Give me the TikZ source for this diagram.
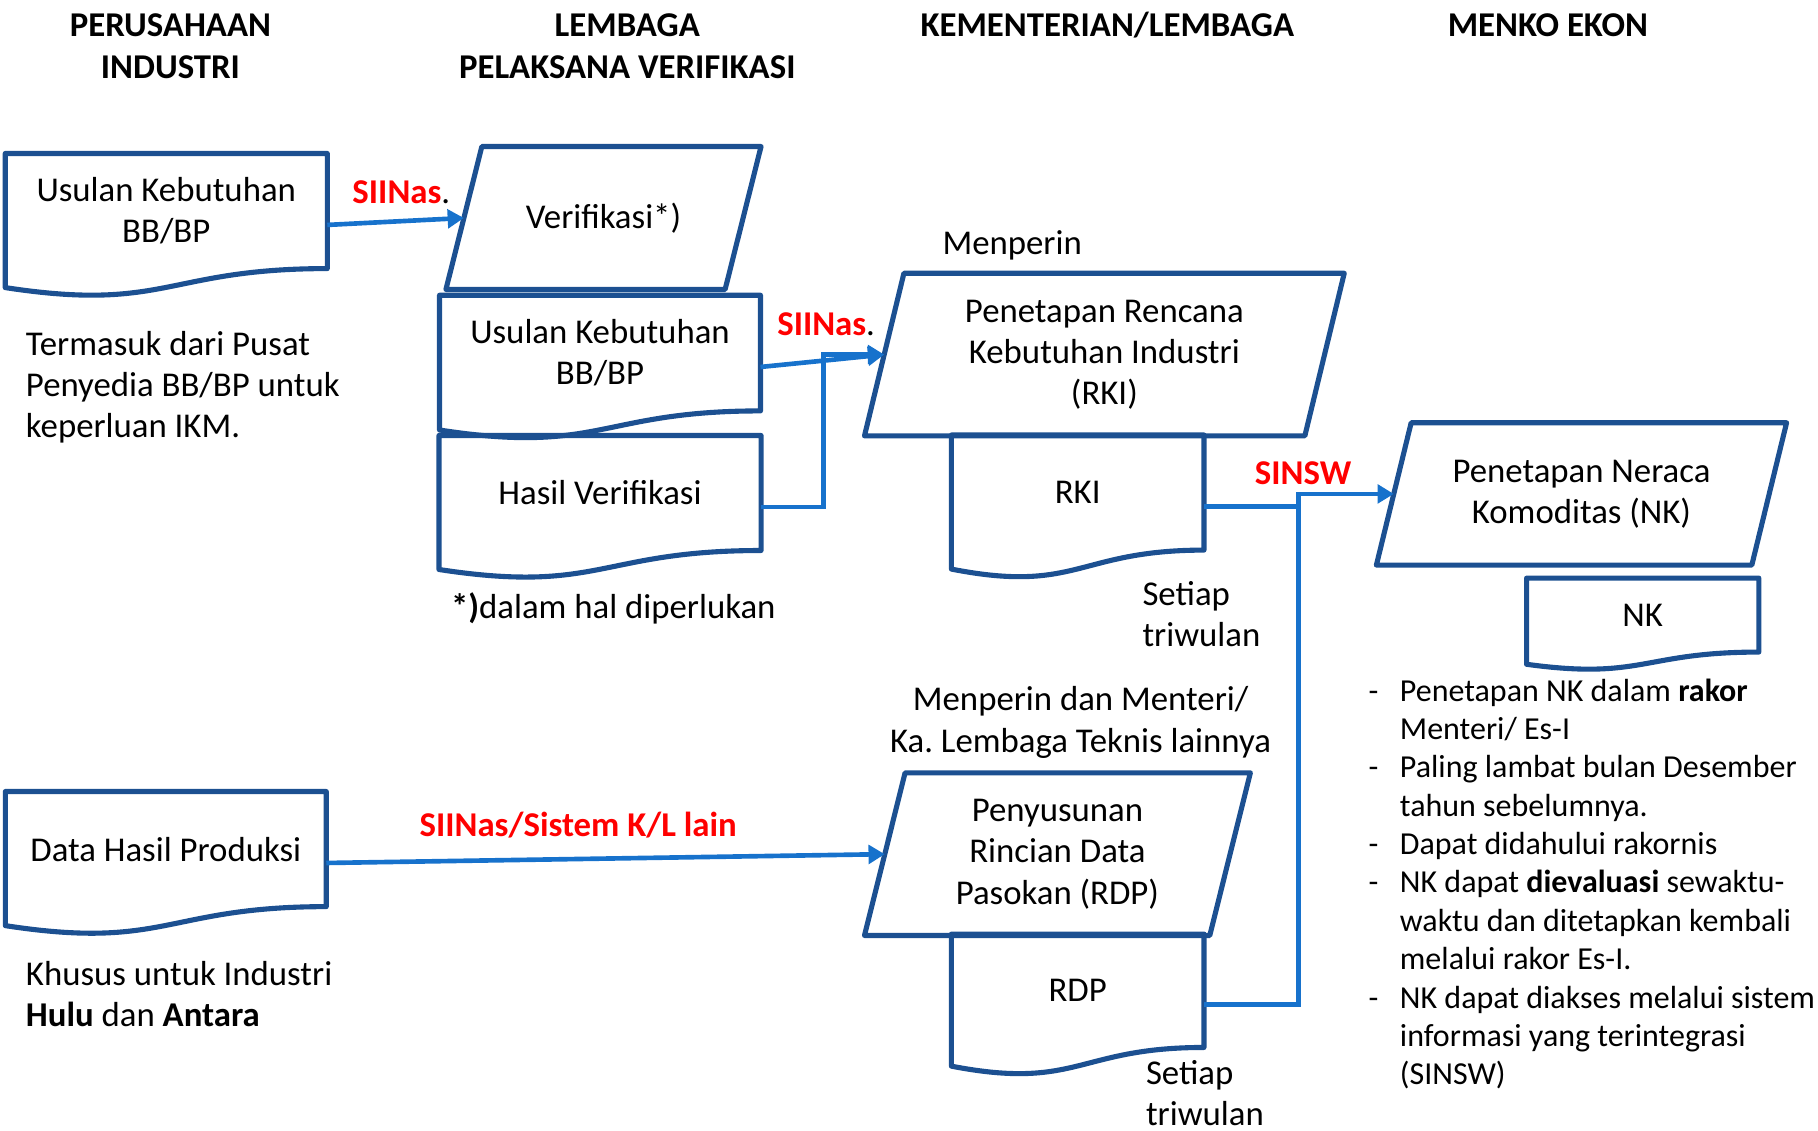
\documentclass[tikz,border=0pt]{standalone}
\usepackage{fontspec}
\setmainfont{Carlito}
\usetikzlibrary{arrows.meta,calc}

\definecolor{boxblue}{RGB}{28,80,145}
\definecolor{linkblue}{RGB}{23,114,204}
\definecolor{sysred}{RGB}{255,0,0}

\tikzset{
  txt/.style={inner sep=0pt, align=center, font=\fontsize{15}{17.75}\selectfont},
  headtxt/.style={txt, font=\fontsize{15}{18}\selectfont\bfseries},
  leftnote/.style={txt, align=left, anchor=west},
  systxt/.style={txt, anchor=west, text=sysred, font=\fontsize{15}{17.75}\selectfont\bfseries},
  boxline/.style={draw=boxblue, line width=2.2pt, line join=round},
  link/.style={draw=linkblue, line width=2pt},
  linkarrow/.style={link, -{Triangle[length=7pt,width=8pt]}},
}

\begin{document}
\frenchspacing
\begin{tikzpicture}[x=0.5pt,y=0.5pt,yscale=-1]
	\useasboundingbox (0,0) rectangle (1568,975);

	% Column heads
	\node[headtxt] (hind) at (147,40) {PERUSAHAAN\\INDUSTRI};
	\node[headtxt] (hlpv) at (541,40) {LEMBAGA\\PELAKSANA VERIFIKASI};
	\node[headtxt] (hkl) at (955,22) {KEMENTERIAN/LEMBAGA};
	\node[headtxt] (hmenko) at (1335,22) {MENKO EKON};

	% Document boxes (text part, the wave is drawn below)
	\node[txt, minimum width=138.5pt, minimum height=49.25pt] (usulA) at (143.4,182) {Usulan Kebutuhan\\BB/BP};
	\node[txt, minimum width=138pt, minimum height=49.5pt] (usulB) at (517.5,304.5) {Usulan Kebutuhan\\BB/BP};
	\node[txt, minimum width=138.5pt, minimum height=49.2pt] (hasil) at (517.5,425.2) {Hasil Verifikasi};
	\node[txt, minimum width=108.5pt, minimum height=49.25pt] (rki) at (929.5,424.8) {RKI};
	\node[txt, minimum width=99.75pt, minimum height=31.5pt] (nk) at (1416.8,530.5) {NK};
	\node[txt, minimum width=138pt, minimum height=49.25pt] (data) at (143,732.3) {Data Hasil Produksi};
	\node[txt, minimum width=108.5pt, minimum height=48.5pt] (rdp) at (929.5,854.5) {RDP};

	% Process boxes (slanted outline drawn below)
	\node[txt, minimum width=120pt, minimum height=61.25pt] (verif) at (520.5,188) {Verifikasi*)};
	\node[txt, minimum width=189.5pt, minimum height=69.75pt] (rkip) at (952.5,305.8) {Penetapan Rencana\\Kebutuhan Industri\\(RKI)};
	\node[txt, minimum width=161.5pt, minimum height=61pt] (nkp) at (1364,426) {Penetapan Neraca\\Komoditas (NK)};
	\node[txt, minimum width=148.5pt, minimum height=69.75pt] (rdpp) at (912,736.7) {Penyusunan\\Rincian Data\\Pasokan (RDP)};

	\foreach \n in {usulA,usulB,hasil,rki,nk,data,rdp}
		\draw[boxline] (\n.north west) -- (\n.north east) -- (\n.south east) .. controls (\n.south) and ($(\n.north)!1.38!(\n.south)$) .. ($(\n.north west)!1.165!(\n.south west)$) -- cycle;
	\foreach \n/\s in {verif/7.75pt,rkip/8.5pt,nkp/7.5pt,rdpp/8.75pt}
		\draw[boxline] ([xshift=\s]\n.north west) -- ([xshift=\s]\n.north east) -- ([xshift=-\s]\n.south east) -- ([xshift=-\s]\n.south west) -- cycle;

	% Side notes
	\node[leftnote] (ikm) at (22,334) {Termasuk dari Pusat\\Penyedia BB/BP untuk\\keperluan IKM.};
	\node[leftnote] (perlu) at (388.6,525) {\textbf{*)}dalam hal diperlukan};
	\node[txt] (menperin) at (873,212) {Menperin};
	\node[leftnote] (triA) at (985,529.5) {Setiap\\triwulan};
	\node[txt] (menteri) at (932,623) {Menperin dan Menteri/\\Ka. Lembaga Teknis lainnya};
	\node[leftnote] (triB) at (988,943) {Setiap\\triwulan};
	\node[leftnote] (hulu) at (22,857) {Khusus untuk Industri\\\textbf{Hulu} dan \textbf{Antara}};
	\node[leftnote, font=\fontsize{13.8}{16.55}\selectfont] (notes) at (1180,763.5) {%
		\begin{tabular}{@{}p{13.5pt}@{}l@{}}
		- & Penetapan NK dalam \textbf{rakor}\\
		  & Menteri/ Es-I\\
		- & Paling lambat bulan Desember\\
		  & tahun sebelumnya.\\
		- & Dapat didahului rakornis\\
		- & NK dapat \textbf{dievaluasi} sewaktu-\\
		  & waktu dan ditetapkan kembali\\
		  & melalui rakor Es-I.\\
		- & NK dapat diakses melalui sistem\\
		  & informasi yang terintegrasi\\
		  & (SINSW)
		\end{tabular}};

	% System labels
	\node[systxt] (sysA) at (303.6,165.5) {SIINas\textcolor{black}{\mdseries.}};
	\node[systxt] (sysB) at (670,280) {SIINas\textcolor{black}{\mdseries.}};
	\node[systxt] (sysC) at (1082,408) {SINSW};
	\node[systxt] (sysD) at (361.5,711.6) {SIINas/Sistem K/L lain};

	% Connections
	\draw[linkarrow] ([yshift=6pt]usulA.east) -- (verif.west);
	\draw[linkarrow] ([yshift=6pt]usulB.east) -- (rkip.west);
	\draw[linkarrow] ([yshift=6pt]hasil.east) -- ++(54,0) |- (rkip.west);
	\draw[linkarrow] ([yshift=6pt]data.east) -- (rdpp.west);
	\coordinate (swbend) at (1120,426);
	\draw[link] ([yshift=6pt]rki.east) -| (swbend);
	\draw[linkarrow] ([yshift=6pt]rdp.east) -| (swbend) -- (nkp.west);
\end{tikzpicture}
\end{document}
